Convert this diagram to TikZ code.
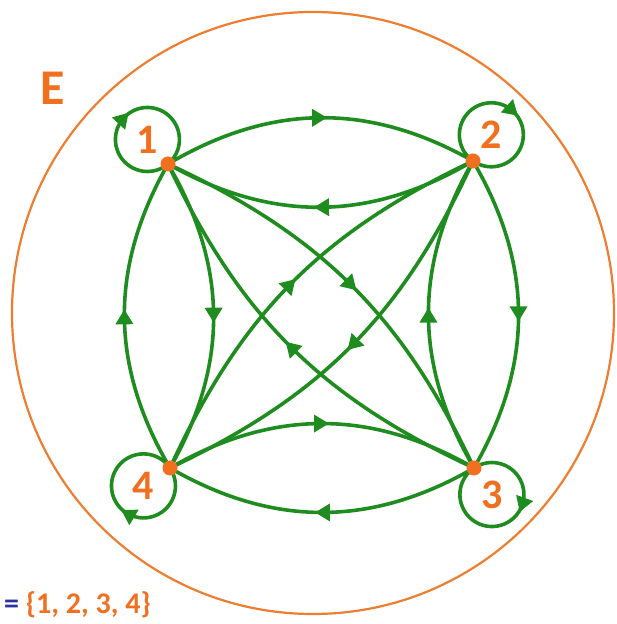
\documentclass[tikz,border=0pt]{standalone}
\usepackage{fontspec}
\setmainfont{Carlito}
\usepackage{tikz}
\usetikzlibrary{calc,positioning,arrows.meta,decorations.markings}
\usepackage{xcolor}
\definecolor{relgreen}{RGB}{30,140,30}
\definecolor{setorange}{RGB}{237,125,49}
\definecolor{lblorange}{RGB}{240,112,32}
\definecolor{eqblue}{RGB}{40,50,160}
\pgfdeclarelayer{back}
\pgfsetlayers{back,main}

\begin{document}
\begin{tikzpicture}[x=1pt, y=1pt,
        relation/.style={draw, color=relgreen, line width=3.6pt},
        midarrow/.style={postaction={decorate}, decoration={markings,
            mark=at position #1 with {\arrow[xshift=7pt]{Triangle[length=15pt, width=17pt]}}}},
        midarrow/.default=0.5,
        vertex/.style={circle, fill=lblorange, inner sep=0pt, minimum size=15pt},
        numlabel/.style={text=lblorange, font=\bfseries\fontsize{42}{42}\selectfont}]
        \useasboundingbox (0,0) rectangle (616,624);

        % Set E
        \draw[setorange, line width=2.2pt] (313,311) circle[radius=301];
        \node[text=lblorange, font=\bfseries\fontsize{50}{50}\selectfont] (setname) at (53,536) {E};
        \node[anchor=west, inner sep=0pt, font=\bfseries\fontsize{30}{30}\selectfont] (setlist) at (4,19)
            {\textcolor{eqblue}{=} \textcolor{lblorange}{\{1, 2, 3, 4\}}};

        % Elements
        \node[vertex] (v1) at (168,460) {};
        \node[vertex] (v2) at (473,463) {};
        \node[vertex] (v3) at (474,156) {};
        \node[vertex] (v4) at (170,156) {};

        \node[numlabel] (l1) at (147,484) {1};
        \node[numlabel] (l2) at (491,489) {2};
        \node[numlabel] (l3) at (492,129) {3};
        \node[numlabel] (l4) at (143,138) {4};

        \begin{pgfonlayer}{back}
        % Loops
        \draw[relation, midarrow=0.48] (v1.center) arc[start angle=-50, delta angle=-360, radius=32];
        \draw[relation, midarrow=0.52] (v2.center) arc[start angle=235, delta angle=-360, radius=32];
        \draw[relation, midarrow=0.40] (v3.center) arc[start angle=124, delta angle=-360, radius=32];
        \draw[relation, midarrow=0.43] (v4.center) arc[start angle=34, delta angle=-360, radius=32];

        % Sides
        \draw[relation, midarrow] (v1.center) to[bend left=30] (v2.center);
        \draw[relation, midarrow] (v2.center) to[bend left=30] (v1.center);
        \draw[relation, midarrow] (v2.center) to[bend left=30] (v3.center);
        \draw[relation, midarrow] (v3.center) to[bend left=30] (v2.center);
        \draw[relation, midarrow] (v3.center) to[bend left=30] (v4.center);
        \draw[relation, midarrow] (v4.center) to[bend left=30] (v3.center);
        \draw[relation, midarrow] (v4.center) to[bend left=30] (v1.center);
        \draw[relation, midarrow] (v1.center) to[bend left=30] (v4.center);

        % Diagonals
        \draw[relation, midarrow] (v1.center) to[bend left=20] (v3.center);
        \draw[relation, midarrow] (v3.center) to[bend left=20] (v1.center);
        \draw[relation, midarrow] (v2.center) to[bend left=20] (v4.center);
        \draw[relation, midarrow] (v4.center) to[bend left=20] (v2.center);
        \end{pgfonlayer}
    \end{tikzpicture}
\end{document}
